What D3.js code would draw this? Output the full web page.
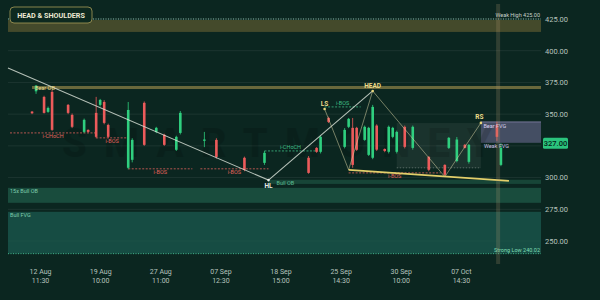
<!DOCTYPE html>
<html>
<head>
<meta charset="utf-8">
<script src="https://cdn.jsdelivr.net/npm/d3@7"></script>
<style>
  html, body { margin: 0; padding: 0; background: #0b2620; }
  svg { display: block; font-family: Roboto, "DejaVu Sans", sans-serif; }
</style>
</head>
<body>
<div id="viz"></div>
<script>
// bar index / price data
const candleIdx   = [6, 7, 9, 10, 11, 15, 16, 19, 20, 22, 23, 24, 25, 30, 31, 34, 37, 39, 42, 43, 49, 52, 59, 64, 75, 77, 78, 80, 84, 85, 86, 87, 89, 90, 91, 92, 94, 95, 96, 97, 99, 101, 105, 109, 110, 112, 114, 115, 122, 123];
const candleOpen  = [352, 368, 363.6, 351.8, 367.5, 357.3, 349.4, 336, 337.6, 351, 357.3, 359.6, 341.5, 307.7, 314, 358.9, 336, 333.7, 321.9, 335.2, 329, 329.7, 315.6, 311.6, 315.6, 323.4, 320.3, 347, 324.2, 340, 339.2, 339.2, 329.7, 317.9, 315.6, 341, 322.5, 320.3, 332.1, 320.3, 340, 323.4, 316.3, 310, 323.4, 313, 325.8, 312.4, 341.5, 310];
const candleHigh  = [352.5, 373, 364.5, 356, 369, 358, 350.5, 346.5, 338, 363.6, 362, 361, 342.5, 359.6, 331, 360, 340, 334.5, 333, 352.5, 336, 331, 316.5, 321, 317, 324, 333, 348, 339, 347, 347, 340, 341, 340, 357.3, 342, 323, 341, 340, 337, 341, 341, 317, 310.5, 332, 332, 326.5, 326.5, 344, 327];
const candleLow   = [350, 366, 350.5, 351, 336.8, 350, 339, 335, 335.5, 331, 356, 342, 331, 306.5, 312, 325, 335, 325, 321, 334, 324, 315, 305, 310, 303, 319.5, 319, 343, 323, 339, 307.7, 321, 329, 317, 314.5, 321, 320, 319, 331, 319, 323, 322, 305, 300.8, 322.5, 312, 323, 311, 329, 309];
const candleClose = [350.7, 372.5, 351, 354.9, 337.6, 351, 340, 345.5, 336, 332.1, 361.2, 343.1, 332.1, 353.3, 329.7, 325.8, 339.2, 325.8, 332.1, 351, 330, 316.3, 306.1, 319.5, 303.7, 320.3, 332.1, 343.9, 337.6, 346.3, 310, 321.9, 340, 339.2, 355.7, 322, 321, 340, 339.2, 336, 324.2, 340, 306.1, 302.2, 331.3, 330, 323.4, 325.8, 332.1, 323.5];

const gridTicks = [250, 275, 300, 325, 350, 375, 400, 425];
const yLabelTicks = [250, 275, 300, 350, 375, 400, 425]; // 325 sits under the price tag
const xTickIdx = [8, 23, 38, 53, 68, 83, 98, 113];
const xTickDates = ['12 Aug', '19 Aug', '27 Aug', '07 Sep', '18 Sep', '25 Sep', '30 Sep', '07 Oct'];
const xTickTimes = ['11:30', '10:00', '11:00', '12:30', '15:00', '14:30', '10:00', '14:30'];

// zones: [label, fromIdx, toIdx, lowPrice, highPrice]
const zoneWeakHigh = ['', 0, 133, 414.8, 424.2];
const zoneBearOB   = ['Bear OB', 6, 133, 369.8, 372.2];
const zoneBull15   = ['15x Bull OB', 0, 133, 280.1, 291.9];
const zoneBullFVG  = ['Bull FVG', 0, 133, 240.02, 273];
const zoneBullOB   = ['Bull OB', 65, 133, 295, 298.3];
const zoneBearFVG  = ['Bear FVG', 118, 133, 327.4, 343.9];
const zoneRange    = ['', 97, 118, 307.7, 343];

// structure levels: [label, fromIdx, toIdx, price, bullish]
const levels = [
  ['i-CHoCH', 0.5, 22, 335.2, false],
  ['i-BOS', 22, 30, 331.3, false],
  ['i-BOS', 30, 46, 306.9, false],
  ['i-BOS', 48, 65, 306.9, false],
  ['i-CHoCH', 64, 77, 321, true],
  ['i-BOS', 79, 88, 355.7, true],
  ['i-BOS', 85, 108, 303.7, false]
];

const trendPts = [[0, 386.4], [65, 298], [91, 368.3]];
const patternPts = [[79, 354.1], [85, 306.1], [91, 368.3], [109, 300.6], [118, 343.1]];
const necklinePts = [[85, 306.1], [125, 297.4]];
const pivots = [['HL', 65, 298], ['LS', 79, 354.1], ['HEAD', 91, 368.3], ['RS', 118, 343.1]];

const weakHigh = 425.00;
const strongLow = 240.02;
const lastPrice = 327.00;
const cursorIdx = 122.3;

const W = 600, H = 300;
const svg = d3.select('#viz').append('svg').attr('width', W).attr('height', H);
svg.append('rect').attr('width', W).attr('height', H).attr('fill', '#0b2620');

const x = d3.scaleLinear().domain([0, 133]).range([8, 541]);
const y = d3.scaleLinear().domain([250, 425]).range([241, 19]);

function zone(z, fill, opacity) {
  svg.append('rect')
    .attr('x', x(z[1])).attr('width', x(z[2]) - x(z[1]))
    .attr('y', y(z[4])).attr('height', y(z[3]) - y(z[4]))
    .attr('fill', fill).attr('opacity', opacity);
}

// gridlines
svg.append('g').selectAll('line').data(gridTicks).enter().append('line')
  .attr('x1', x(0)).attr('x2', x(133))
  .attr('y1', d => y(d)).attr('y2', d => y(d))
  .attr('stroke', '#ffffff').attr('stroke-opacity', 0.07);

// zones
zone(zoneWeakHigh, '#4a4f2c', 0.9);
zone(zoneBearOB, '#7a7442', 0.85);
zone(zoneBull15, '#1f5a47', 0.75);
zone(zoneBullFVG, '#1b5a4f', 0.75);
zone(zoneBullOB, '#1f5a47', 0.6);
zone(zoneBearFVG, '#9a8cc8', 0.4);
zone(zoneRange, '#c8d0cc', 0.08);

svg.append('line')
  .attr('x1', x(zoneBearFVG[1])).attr('x2', x(zoneBearFVG[2]))
  .attr('y1', y(zoneBearFVG[4])).attr('y2', y(zoneBearFVG[4]))
  .attr('stroke', '#b9a9e6').attr('stroke-opacity', 0.5);

// weak high / strong low dotted lines
svg.append('line').attr('x1', x(0)).attr('x2', x(133))
  .attr('y1', y(weakHigh)).attr('y2', y(weakHigh))
  .attr('stroke', '#9fd8c8').attr('stroke-width', 0.8).attr('stroke-dasharray', '1,1.5');
svg.append('line').attr('x1', x(0)).attr('x2', x(133))
  .attr('y1', y(strongLow)).attr('y2', y(strongLow))
  .attr('stroke', '#4fd0a0').attr('stroke-width', 0.8).attr('stroke-dasharray', '1,1.5');

// watermark
svg.append('text').attr('x', 62).attr('y', 157)
  .attr('font-size', 40).attr('font-weight', 800)
  .attr('textLength', 430).attr('fill', '#000').attr('opacity', 0.13)
  .text('SMARTMONEY');

// structure levels
levels.forEach(l => {
  const col = l[4] ? '#3fbf86' : '#e0625c';
  svg.append('line')
    .attr('x1', x(l[1])).attr('x2', x(l[2]))
    .attr('y1', y(l[3])).attr('y2', y(l[3]))
    .attr('stroke', col).attr('stroke-width', 0.8).attr('stroke-dasharray', '2,1.5');
  svg.append('text')
    .attr('x', x((l[1] + l[2]) / 2)).attr('y', y(l[3]) + (l[4] ? -1.5 : 5.5))
    .attr('text-anchor', 'middle').attr('font-size', 5.5)
    .attr('fill', col).text(l[0]);
});

// range box dashed bottom
svg.append('line')
  .attr('x1', x(zoneRange[1])).attr('x2', x(zoneRange[2]))
  .attr('y1', y(zoneRange[3])).attr('y2', y(zoneRange[3]))
  .attr('stroke', '#9aa8a0').attr('stroke-opacity', 0.5).attr('stroke-dasharray', '1.5,1.5');

// candles
const candles = candleIdx.map((d, k) => ({ i: d, o: candleOpen[k], h: candleHigh[k], l: candleLow[k], c: candleClose[k] }));
const cg = svg.append('g');
cg.selectAll('line').data(candles).enter().append('line')
  .attr('x1', d => x(d.i)).attr('x2', d => x(d.i))
  .attr('y1', d => y(d.h)).attr('y2', d => y(d.l))
  .attr('stroke', d => d.c >= d.o ? '#2fcf7f' : '#ec5b5b').attr('stroke-width', 0.8);
cg.selectAll('rect').data(candles).enter().append('rect')
  .attr('x', d => x(d.i) - 1.3).attr('width', 2.6)
  .attr('y', d => y(Math.max(d.o, d.c)))
  .attr('height', d => Math.max(1, Math.abs(y(d.o) - y(d.c))))
  .attr('fill', d => d.c >= d.o ? '#2fcf7f' : '#ec5b5b');

// trend & pattern lines
const line = d3.line().x(d => x(d[0])).y(d => y(d[1]));
svg.append('path').datum(trendPts).attr('d', line)
  .attr('fill', 'none').attr('stroke', '#dfe6dc').attr('stroke-opacity', 0.8).attr('stroke-width', 1.1);
svg.append('path').datum(patternPts).attr('d', line)
  .attr('fill', 'none').attr('stroke', '#d8d2a4').attr('stroke-opacity', 0.65).attr('stroke-width', 0.8);
svg.append('path').datum(necklinePts).attr('d', line)
  .attr('fill', 'none').attr('stroke', '#e2cf6a').attr('stroke-width', 1.6);

// pivot labels
pivots.forEach(p => {
  const isHL = p[0] === 'HL';
  svg.append('circle').attr('cx', x(p[1])).attr('cy', y(p[2])).attr('r', 1.3)
    .attr('fill', isHL ? '#e8ece6' : '#e8d77a');
  svg.append('text').attr('x', x(p[1]) - (p[0] === 'RS' ? 1.5 : 0))
    .attr('y', isHL ? y(p[2]) + 7.5 : y(p[2]) - (p[0] === 'RS' ? 4 : 2.5))
    .attr('text-anchor', 'middle').attr('font-size', 6.5).attr('font-weight', 700)
    .attr('fill', isHL ? '#e8ece6' : '#ecdc8a').text(p[0]);
});

// zone labels
function zlabel(txt, xx, yy, col, anchor) {
  svg.append('text').attr('x', xx).attr('y', yy).attr('font-size', 5.5)
    .attr('text-anchor', anchor || 'start').attr('fill', col).text(txt);
}
zlabel(zoneBearOB[0], x(zoneBearOB[1]) + 3, y(zoneBearOB[3]) + 1, '#e6d98a');
zlabel(zoneBull15[0], x(0) + 2, y(zoneBull15[4]) + 5, '#7fcfae');
zlabel(zoneBullFVG[0], x(0) + 2, y(zoneBullFVG[4]) + 5, '#7fcfae');
zlabel(zoneBullOB[0], x(zoneBullOB[1]) + 8, y(zoneBullOB[3]) + 1.5, '#5fbf96');
zlabel(zoneBearFVG[0], x(zoneBearFVG[1]) + 2.5, y(zoneBearFVG[4]) + 6.5, '#d8d0ee');
zlabel('Weak FVG', x(zoneBearFVG[1]) + 3, y(zoneBearFVG[3]) + 5, '#c8c0e0');
zlabel('Weak High  ' + weakHigh.toFixed(2), x(133) - 1, y(weakHigh) - 2, '#c8d4cc', 'end');
zlabel('Strong Low  ' + strongLow.toFixed(2), x(133) - 1, y(strongLow) - 1.5, '#7fdcb4', 'end');

// cursor column
svg.append('rect').attr('x', x(cursorIdx) - 2).attr('width', 4)
  .attr('y', 4).attr('height', 260)
  .attr('fill', '#b49a72').attr('opacity', 0.22);

// price axis
const yAxis = svg.append('g').attr('transform', `translate(${x(133) + 3},0)`)
  .call(d3.axisRight(y).tickValues(yLabelTicks).tickFormat(d3.format('.2f')).tickSize(0).tickPadding(1));
yAxis.select('.domain').remove();
yAxis.selectAll('text').attr('font-size', 7.5).attr('fill', '#b7c3be')
  .attr('font-family', 'Roboto, "DejaVu Sans", sans-serif');

// time axis
const xAxis = svg.append('g').attr('transform', 'translate(0,266)')
  .call(d3.axisBottom(x).tickValues(xTickIdx).tickSize(0).tickFormat(''));
xAxis.select('.domain').remove();
xAxis.selectAll('.tick').each(function (d, k) {
  const t = d3.select(this).select('text').attr('y', 0).attr('dy', 0)
    .attr('font-size', 7).attr('fill', '#b7c3be')
    .attr('font-family', 'Roboto, "DejaVu Sans", sans-serif');
  t.append('tspan').attr('x', 0).attr('y', 8).text(xTickDates[k]);
  t.append('tspan').attr('x', 0).attr('y', 17).text(xTickTimes[k]);
});

// last price tag
svg.append('rect').attr('x', 543).attr('y', y(lastPrice) - 5.5)
  .attr('width', 25).attr('height', 11).attr('rx', 1.5).attr('fill', '#2bc47d');
svg.append('text').attr('x', 555.5).attr('y', y(lastPrice) + 2.6)
  .attr('text-anchor', 'middle').attr('font-size', 7.5).attr('font-weight', 500)
  .attr('fill', '#05241a').text(lastPrice.toFixed(2));

// title box
svg.append('rect').attr('x', 10).attr('y', 7).attr('width', 82).attr('height', 16).attr('rx', 4)
  .attr('fill', '#0d291f').attr('stroke', '#a79c58').attr('stroke-width', 0.8);
svg.append('text').attr('x', 51).attr('y', 18).attr('text-anchor', 'middle')
  .attr('font-size', 7.2).attr('font-weight', 700).attr('fill', '#ebe8d2')
  .text('HEAD & SHOULDERS');
</script>
</body>
</html>
